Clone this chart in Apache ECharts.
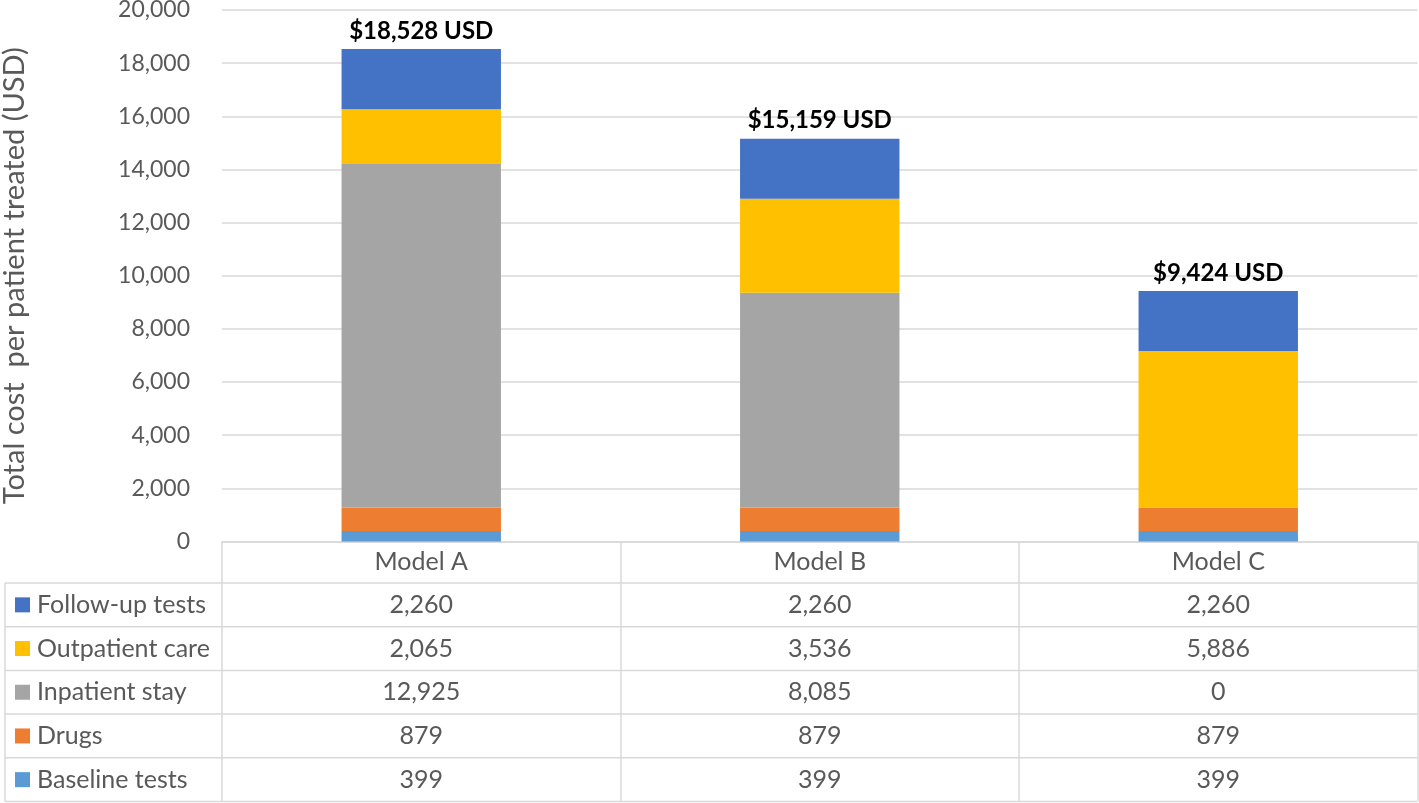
<!DOCTYPE html>
<html>
<head>
<meta charset="utf-8">
<script src="https://cdn.jsdelivr.net/npm/echarts@6/dist/echarts.min.js"></script>
<style>html,body{margin:0;padding:0;background:#fff;}#c{width:1419px;height:803px;}</style>
</head>
<body>
<div id="c"></div>
<script>
const categories = ['Model A', 'Model B', 'Model C'];
const followUp = [2260, 2260, 2260];
const outpatient = [2065, 3536, 5886];
const inpatient = [12925, 8085, 0];
const drugs = [879, 879, 879];
const baseline = [399, 399, 399];
const yMin = 0, yMax = 20000, yStep = 2000;
const seriesNames = ['Follow-up tests', 'Outpatient care', 'Inpatient stay', 'Drugs', 'Baseline tests'];
const colors = {
  'Follow-up tests': '#4472C4',
  'Outpatient care': '#FFC000',
  'Inpatient stay': '#A5A5A5',
  'Drugs': '#ED7D31',
  'Baseline tests': '#5B9BD5'
};
const rowsData = [followUp, outpatient, inpatient, drugs, baseline];
const totals = categories.map((_, i) => followUp[i] + outpatient[i] + inpatient[i] + drugs[i] + baseline[i]);

const fmt = v => v.toLocaleString('en-US');
const FONT = 'Lato';
const TXT = '#595959';
const LINE = '#d9d9d9';

const gridTop = 10, axisY = 541.5, tableBottom = 801.5;
const headerH = 41.5, rowH = 43.7, tableLeft = 5, tableRight = 1417.5;
const rowTop0 = axisY + headerH;
const rowCenter = k => rowTop0 + rowH * (k + 0.5);

const chart = echarts.init(document.getElementById('c'));

const xAxes = [{
  type: 'category', data: categories, gridIndex: 0, position: 'bottom',
  axisLine: { show: true, lineStyle: { color: LINE, width: 1.5 } },
  axisTick: { show: true, length: tableBottom - axisY, lineStyle: { color: LINE, width: 1.5 } },
  axisLabel: { margin: headerH / 2, verticalAlign: 'middle', fontFamily: FONT, fontSize: 25, color: TXT }
}];
rowsData.forEach((arr, k) => {
  xAxes.push({
    type: 'category', data: categories, gridIndex: 0, position: 'bottom', offset: 0,
    axisLine: { show: false }, axisTick: { show: false }, splitLine: { show: false },
    axisLabel: {
      margin: rowCenter(k) - axisY, verticalAlign: 'middle', fontFamily: FONT, fontSize: 25, color: TXT,
      formatter: (v, i) => fmt(arr[i])
    }
  });
});

const stackOrder = [
  ['Baseline tests', baseline],
  ['Drugs', drugs],
  ['Inpatient stay', inpatient],
  ['Outpatient care', outpatient],
  ['Follow-up tests', followUp]
];
const series = stackOrder.map(([name, arr]) => ({
  name, type: 'bar', stack: 'total', data: arr, barWidth: '40%',
  xAxisIndex: 0, yAxisIndex: 0,
  itemStyle: { color: colors[name] },
  label: name === 'Follow-up tests' ? {
    show: true, position: 'top', distance: 6,
    formatter: p => '$' + fmt(totals[p.dataIndex]) + ' USD',
    color: '#000', fontWeight: 'bold', fontSize: 24, fontFamily: FONT
  } : { show: false },
  emphasis: { disabled: true }
}));

const legends = seriesNames.map((name, k) => ({
  data: [name], orient: 'vertical', left: 15, top: rowCenter(k) - 13, padding: 0,
  icon: 'rect', itemWidth: 15, itemHeight: 15, selectedMode: false,
  textStyle: { fontFamily: FONT, fontSize: 25, color: TXT, lineHeight: 26, padding: [0, 0, 0, 2] }
}));

const graphics = [];
for (let k = 0; k <= 5; k++) {
  const y = rowTop0 + rowH * k;
  graphics.push({ type: 'line', shape: { x1: tableLeft, y1: y, x2: tableRight, y2: y },
    style: { stroke: LINE, lineWidth: 1.5 }, silent: true });
}
graphics.push({ type: 'line', shape: { x1: tableLeft, y1: rowTop0, x2: tableLeft, y2: rowTop0 + rowH * 5 },
  style: { stroke: LINE, lineWidth: 1.5 }, silent: true });

chart.setOption({
  animation: false,
  backgroundColor: '#fff',
  grid: { left: 222, right: 1419 - tableRight, top: gridTop, bottom: 803 - axisY, containLabel: false, outerBoundsMode: 'none' },
  legend: legends,
  xAxis: xAxes,
  yAxis: {
    type: 'value', min: yMin, max: yMax, interval: yStep,
    axisLine: { show: false }, axisTick: { show: false },
    splitLine: { lineStyle: { color: LINE, width: 1.5 } },
    axisLabel: { formatter: v => fmt(v), fontFamily: FONT, fontSize: 23, color: TXT, margin: 32 },
    name: 'Total cost  per patient treated (USD)', nameLocation: 'middle', nameGap: 193,
    nameTextStyle: { fontFamily: FONT, fontSize: 29, color: TXT }
  },
  series,
  graphic: graphics
});
</script>
</body>
</html>
